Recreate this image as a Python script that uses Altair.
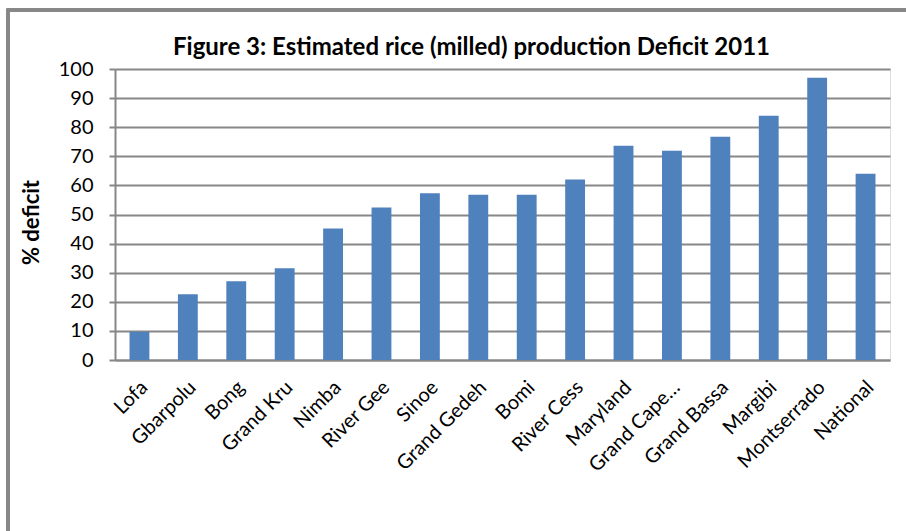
import altair as alt
import pandas as pd

counties = ["Lofa", "Gbarpolu", "Bong", "Grand Kru", "Nimba", "River Gee", "Sinoe",
            "Grand Gedeh", "Bomi", "River Cess", "Maryland", "Grand Cape\u2026",
            "Grand Bassa", "Margibi", "Montserrado", "National"]
deficit = [9.7, 22.6, 27.1, 31.5, 45.2, 52.4, 57.3, 56.8, 56.8, 62.0, 73.6, 71.9,
           76.7, 83.9, 97.0, 64.0]
y_ticks = list(range(0, 101, 10))

df = pd.DataFrame({"county": counties, "deficit": deficit})

FONT = "Lato"
GRAY = "#878787"
BLUE = "#4F81BD"

W, H = 775, 291

bars = alt.Chart(df).mark_bar(color=BLUE).encode(
    x=alt.X("county:N", sort=counties,
            scale=alt.Scale(paddingInner=0.59, paddingOuter=0.3),
            axis=alt.Axis(title=None, labelAngle=-45, labelAlign="right",
                          labelBaseline="middle", labelFont=FONT, labelFontSize=20,
                          labelColor="#000000", ticks=False, domainColor=GRAY,
                          domainWidth=2, labelPadding=24, labelOffset=5,
                          labelOverlap=False, labelLimit=250)),
    y=alt.Y("deficit:Q",
            scale=alt.Scale(domain=[0, 100], nice=False),
            axis=alt.Axis(title="% deficit", values=y_ticks, labelFont=FONT,
                          labelFontSize=20, labelColor="#000000", titleFont=FONT,
                          titleFontSize=22, titleFontWeight="bold", titleColor="#000000",
                          titlePadding=15, titleY=153, domainColor=GRAY, domainWidth=2,
                          tickColor=GRAY, tickWidth=2, tickSize=6, gridColor=GRAY,
                          gridWidth=2, labelPadding=16)),
)

border = alt.Chart(df).mark_rect(fill=None, stroke=GRAY, strokeWidth=2.5).encode(
    x=alt.value(-107), x2=alt.value(W + 60), y=alt.value(-59), y2=alt.value(H + 300)
)

chart = alt.layer(border, bars).properties(
    width=W, height=H,
    title=alt.TitleParams("Figure 3: Estimated rice (milled) production Deficit 2011",
                          font=FONT, fontSize=24, fontWeight="bold", color="#000000",
                          anchor="middle", dx=-31, offset=0, dy=51, frame="group"),
    padding={"left": 115, "top": 69, "right": 16, "bottom": 171},
    autosize="none",
).configure_view(stroke=None).configure(background="white")

chart.save("out.html", embed_options={"renderer": "svg", "actions": False})
